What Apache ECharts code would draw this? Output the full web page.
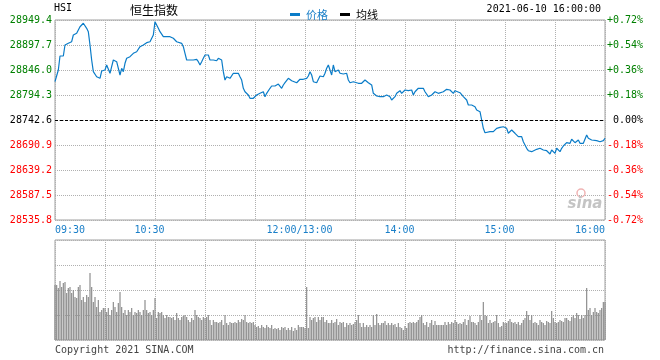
<!DOCTYPE html>
<html><head><meta charset="utf-8">
<script src="https://cdn.jsdelivr.net/npm/echarts@6/dist/echarts.min.js"></script>
<style>html,body{margin:0;padding:0;background:#fff}#c{width:660px;height:360px}</style>
</head><body><div id="c"></div>
<script>
const prevClose = 28742.6;
const priceStep = 51.7;
const pctStep = 0.18;
const timeTickMinutes = [0, 60, 150, 210, 270, 330];
const timeTickLabels = ['09:30', '10:30', '12:00/13:00', '14:00', '15:00', '16:00'];

const minutes = [0,1,2,3,5,6,8,9,10,11,13,14,15,16,17,18,19,20,21,22,23,24,25,26,27,28,30,31,32,33,34,35,36,37,38,39,40,41,42,43,45,47,48,49,50,51,53,55,57,58,59,60,61,62,63,64,65,66,67,69,71,72,73,74,76,77,78,79,80,81,82,83,85,86,87,88,89,90,91,92,93,94,95,97,98,99,100,101,102,103,104,105,107,110,111,112,113,114,115,116,117,118,119,120,121,122,123,124,125,126,127,128,129,130,132,134,135,136,137,138,139,140,141,142,143,145,146,147,148,149,151,152,153,154,155,157,158,159,160,161,162,163,164,165,166,167,168,169,170,171,172,173,174,175,176,177,179,180,182,184,185,186,187,188,189,190,191,192,193,194,195,196,197,198,199,200,201,202,203,204,205,206,207,208,209,210,212,213,214,215,216,217,218,219,221,222,223,224,225,226,227,228,229,230,231,233,234,235,236,237,238,239,240,241,243,245,247,248,249,250,251,252,253,254,255,256,257,258,259,261,262,263,264,265,266,267,268,269,270,271,272,273,274,275,276,277,278,279,280,281,282,283,284,285,286,287,289,290,291,292,293,294,295,296,297,298,299,300,301,302,303,304,305,306,307,308,309,310,311,312,313,314,315,316,317,318,319,320,321,322,323,325,327,328,329,330];

const prices = [28821.8,28825.3,28846.0,28875.0,28875.0,28897.7,28901.2,28901.2,28904.5,28918.4,28921.9,28925.2,28935.5,28939.1,28942.6,28944.6,28932.2,28925.2,28897.7,28866.7,28842.5,28844.6,28832.1,28832.1,28828.8,28843.9,28846.0,28856.3,28856.3,28839.2,28852.8,28866.7,28870.2,28863.2,28859.9,28835.7,28849.5,28842.5,28859.9,28870.2,28873.5,28880.5,28877.0,28883.8,28887.4,28894.2,28897.7,28902.5,28904.5,28908.0,28918.4,28945.9,28942.6,28932.2,28925.2,28921.9,28914.9,28918.4,28914.9,28914.9,28911.6,28909.5,28904.5,28901.2,28901.2,28894.2,28880.5,28866.7,28863.2,28866.7,28863.2,28866.7,28868.1,28863.2,28856.3,28863.2,28870.2,28877.0,28880.5,28877.0,28866.7,28863.2,28866.7,28865.2,28870.2,28873.5,28866.7,28842.5,28825.3,28832.1,28835.7,28828.8,28839.2,28839.2,28832.1,28825.3,28808.2,28801.1,28797.8,28794.3,28787.5,28790.8,28787.5,28790.8,28794.3,28790.8,28797.8,28797.8,28801.1,28790.8,28797.8,28801.1,28808.2,28812.9,28812.9,28817.0,28818.5,28808.2,28815.0,28819.7,28821.8,28828.8,28828.8,28823.9,28821.8,28819.7,28821.8,28826.8,28823.9,28826.8,28828.8,28833.6,28842.5,28835.7,28821.8,28819.7,28821.8,28833.6,28835.7,28832.1,28839.2,28849.5,28856.3,28852.8,28835.7,28856.3,28842.5,28839.2,28846.0,28839.2,28835.7,28837.7,28835.7,28839.2,28825.3,28819.7,28821.8,28818.5,28818.5,28818.5,28821.8,28825.3,28826.8,28819.7,28818.5,28815.0,28797.8,28797.8,28792.2,28794.3,28790.8,28787.5,28790.8,28794.3,28794.3,28797.8,28790.8,28784.0,28787.5,28790.8,28797.8,28801.1,28803.2,28797.8,28801.1,28804.6,28803.2,28801.1,28804.6,28794.3,28801.1,28804.6,28808.2,28810.2,28808.2,28801.1,28797.8,28790.8,28787.5,28794.3,28797.8,28801.1,28799.1,28797.8,28801.1,28801.1,28804.6,28806.1,28808.2,28804.6,28801.1,28797.8,28803.2,28804.6,28799.0,28791.0,28784.0,28773.6,28770.1,28773.6,28777.1,28770.1,28763.3,28761.8,28759.8,28742.6,28725.4,28716.3,28715.1,28718.4,28716.3,28718.4,28721.9,28725.4,28728.7,28727.5,28725.4,28728.7,28725.4,28725.4,28715.1,28718.4,28721.9,28718.4,28715.1,28711.6,28708.1,28711.6,28708.1,28697.7,28690.9,28684.1,28679.1,28675.0,28677.1,28680.6,28682.0,28684.1,28684.1,28686.1,28680.6,28677.1,28679.1,28675.0,28672.3,28680.6,28677.1,28673.7,28684.1,28680.6,28677.1,28684.1,28688.8,28690.9,28695.7,28697.7,28694.4,28702.7,28699.8,28695.7,28697.7,28701.2,28694.4,28697.7,28694.4,28697.7,28711.6,28704.8,28701.2,28701.2,28697.7,28699.8,28697.7,28701.2,28699.8,28704.8];

const volumes = [55,55,52,59,53,57,58,47,52,53,
47,50,43,42,53,55,40,43,38,45,
43,67,53,38,43,33,40,28,30,32,
32,28,32,25,30,38,33,28,37,48,
33,27,30,25,30,28,32,25,28,27,
30,28,25,30,40,30,27,28,25,30,
42,22,28,27,28,25,22,25,23,23,
22,23,20,27,22,20,23,24,25,23,
20,18,22,20,30,25,23,22,20,23,
22,23,25,20,15,20,18,18,17,18,
20,15,25,17,15,18,17,17,18,17,
20,18,21,20,25,18,17,18,17,18,
15,13,14,12,15,13,12,15,13,12,
15,11,12,11,12,10,13,12,13,10,
12,10,13,9,12,10,15,13,13,13,
12,53,12,23,20,22,23,18,23,20,
23,23,18,20,17,
17,20,17,18,21,15,18,17,18,13,
17,15,17,15,16,18,20,25,17,13,
17,13,15,13,15,13,25,15,26,17,
15,17,17,19,15,17,15,17,15,16,
13,17,13,12,10,14,12,17,18,17,
18,17,18,20,23,25,17,15,18,13,
17,20,15,19,15,15,15,15,15,18,
15,18,16,18,17,20,18,16,17,16,
18,21,15,20,24,18,18,17,15,18,
25,20,38,25,24,17,20,17,18,19,
25,17,13,14,18,17,17,19,21,18,
17,18,16,18,15,17,20,22,29,25,
20,25,17,18,17,15,20,18,17,15,
19,18,17,29,22,18,17,18,20,19,
18,22,22,20,19,23,25,22,27,25,
21,25,22,25,52,30,32,25,28,32,
28,27,30,32,38,38];

const mono = '"DejaVu Sans Mono", monospace';
const cjk = '"Noto Sans CJK SC", sans-serif';
const GREEN = '#008000', RED = '#ff0000', BLUE = '#0a7cc8', LBLUE = '#1a7fc8';

function signColor(v) {
  const r = Math.round(v * 1000);
  return r > 0 ? GREEN : (r < 0 ? RED : '#000');
}
function timeLabel(v) {
  const k = timeTickMinutes.indexOf(Math.round(v));
  if (k < 0) return '';
  const t = timeTickLabels[k];
  if (k === 0) return '{first|' + t + '}';
  if (k === timeTickLabels.length - 1) return '{last|' + t + '}';
  return '{mid|' + t + '}';
}
const dotted = { show: true, lineStyle: { color: '#b0b0b0', type: [1, 1], width: 1 } };

const chart = echarts.init(document.getElementById('c'));
chart.setOption({
  animation: false,
  backgroundColor: '#fff',
  legend: {
    left: 285, top: 4, itemWidth: 10, itemHeight: 3, itemGap: 12, icon: 'rect',
    textStyle: { fontFamily: cjk, fontSize: 11, padding: [0, 0, 0, 1] },
    data: [{ name: '价格', textStyle: { color: LBLUE } }, { name: '均线', textStyle: { color: '#000' } }]
  },
  grid: [
    { left: 55, right: 55, top: 20, height: 200, show: true, borderColor: '#a0a0a0', borderWidth: 1 },
    { left: 55, right: 55, top: 240, height: 100, show: true, borderColor: '#a0a0a0', borderWidth: 1 }
  ],
  xAxis: [
    { type: 'value', gridIndex: 0, min: 0, max: 330, interval: 30,
      axisLine: { show: false }, axisTick: { show: false }, splitLine: dotted,
      axisLabel: { formatter: timeLabel, margin: 5, color: LBLUE, fontFamily: mono, fontSize: 10,
        rich: {
          first: { fontFamily: mono, fontSize: 10, color: LBLUE, padding: [0, 0, 0, 30] },
          last: { fontFamily: mono, fontSize: 10, color: LBLUE, padding: [0, 30, 0, 0] },
          mid: { fontFamily: mono, fontSize: 10, color: LBLUE, padding: [0, 11, 0, 0] }
        } } },
    { type: 'value', gridIndex: 1, min: 0, max: 330, interval: 30,
      axisLine: { show: false }, axisTick: { show: false }, axisLabel: { show: false }, splitLine: dotted }
  ],
  yAxis: [
    { type: 'value', gridIndex: 0, min: -4, max: 4, interval: 1,
      axisLine: { show: false }, axisTick: { show: false }, splitLine: dotted,
      axisLabel: { margin: 3, fontFamily: mono, fontSize: 10, padding: [0, 0, 6, 0],
        formatter: v => (prevClose + v * priceStep).toFixed(1), color: v => signColor(v) } },
    { type: 'value', gridIndex: 0, position: 'right', min: -4, max: 4, interval: 1,
      axisLine: { show: false }, axisTick: { show: false }, splitLine: { show: false },
      axisLabel: { margin: 2, fontFamily: mono, fontSize: 10, padding: [0, 0, 6, 0],
        formatter: v => {
          const p = Math.round(v * pctStep * 100) / 100;
          if (p === 0) return ' 0.00%';
          return (p > 0 ? '+' : '-') + Math.abs(p).toFixed(2) + '%';
        }, color: v => signColor(v) } },
    { type: 'value', gridIndex: 1, min: 0, max: 100, interval: 25,
      axisLine: { show: false }, axisTick: { show: false }, axisLabel: { show: false }, splitLine: dotted }
  ],
  series: [
    { name: '价格', type: 'line', xAxisIndex: 0, yAxisIndex: 0, showSymbol: false, symbol: 'none',
      data: minutes.map((m, i) => [m, (prices[i] - prevClose) / priceStep]),
      lineStyle: { color: BLUE, width: 1.2 }, itemStyle: { color: BLUE },
      markLine: { silent: true, symbol: 'none', label: { show: false },
        lineStyle: { color: '#000', type: [3, 2], width: 1 }, data: [{ yAxis: 0 }] } },
    { name: '均线', type: 'line', xAxisIndex: 0, yAxisIndex: 0, data: [], itemStyle: { color: '#000' }, lineStyle: { color: '#000' } },
    { name: '成交量', type: 'bar', xAxisIndex: 1, yAxisIndex: 2, barWidth: 1.2,
      data: volumes.map((v, i) => [i, v]), itemStyle: { color: '#8e8e8e' } }
  ],
  graphic: [
    { type: 'text', left: 54, top: 3, style: { text: 'HSI', font: '10px ' + mono, fill: '#000' } },
    { type: 'text', x: 154, y: 10, style: { text: '恒生指数', font: '12px ' + cjk, fill: '#000', align: 'center', verticalAlign: 'middle' } },
    { type: 'text', x: 601, y: 9, style: { text: '2021-06-10 16:00:00', font: '10px ' + mono, fill: '#000', align: 'right', verticalAlign: 'middle' } },
    { type: 'circle', shape: { cx: 581, cy: 193, r: 4 }, style: { fill: 'none', stroke: '#f0b4b4', lineWidth: 1.5 }, z: 1 },
    { type: 'text', x: 585, y: 204, style: { text: 'sina', font: 'italic bold 15px "DejaVu Sans", sans-serif', fill: '#c4c4c4', align: 'center', verticalAlign: 'middle' }, z: 1 },
    { type: 'text', x: 55, y: 350, style: { text: 'Copyright 2021 SINA.COM', font: '10px ' + mono, fill: '#444', verticalAlign: 'middle' } },
    { type: 'text', x: 604, y: 350, style: { text: 'http://finance.sina.com.cn', font: '10px ' + mono, fill: '#444', align: 'right', verticalAlign: 'middle' } }
  ]
});
</script>
</body></html>
